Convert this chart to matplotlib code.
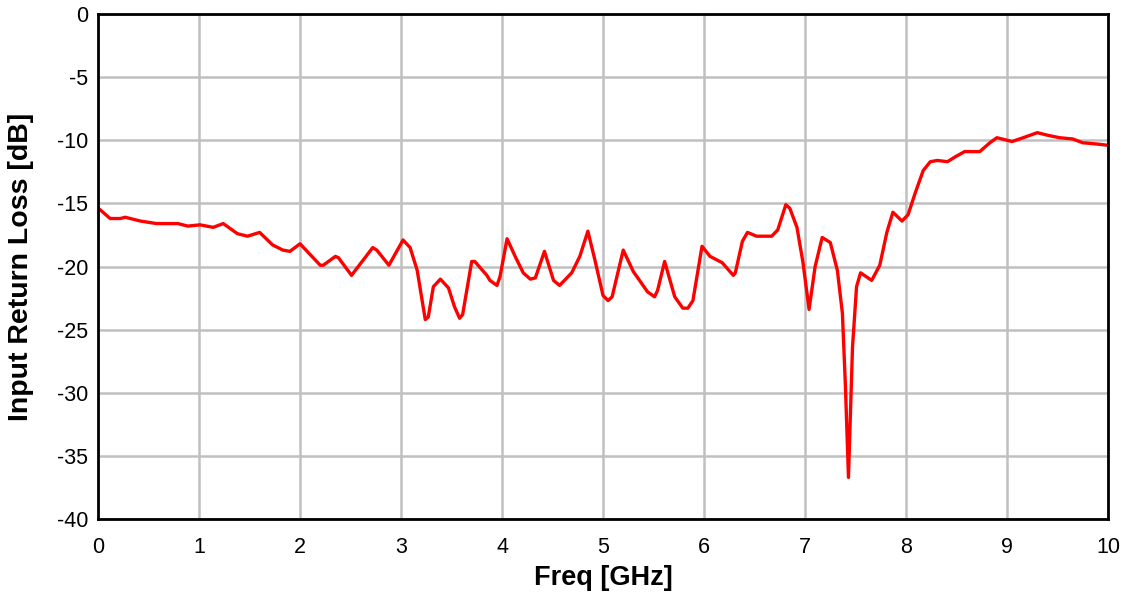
import matplotlib
matplotlib.use("Agg")
import matplotlib.pyplot as plt

plt.rcParams['font.family'] = ['Liberation Sans', 'DejaVu Sans']
plt.rcParams['axes.unicode_minus'] = False

# frequency [GHz] and input return loss [dB]
freq = [0.00, 0.02, 0.12, 0.22, 0.27, 0.42, 0.58, 0.79, 0.89, 1.01, 1.14, 1.24,
        1.38, 1.48, 1.60, 1.73, 1.83, 1.90, 2.00, 2.20, 2.23, 2.35, 2.38, 2.51,
        2.72, 2.76, 2.88, 3.02, 3.09, 3.16, 3.24, 3.27, 3.32, 3.39, 3.47, 3.53,
        3.58, 3.61, 3.70, 3.73, 3.85, 3.88, 3.95, 3.98, 4.05, 4.13, 4.21, 4.28,
        4.33, 4.42, 4.51, 4.57, 4.69, 4.77, 4.85, 4.92, 5.00, 5.05, 5.09, 5.20,
        5.30, 5.44, 5.51, 5.54, 5.61, 5.71, 5.79, 5.84, 5.89, 5.98, 6.06, 6.18,
        6.29, 6.31, 6.38, 6.43, 6.52, 6.67, 6.73, 6.81, 6.85, 6.92, 6.98, 7.04,
        7.10, 7.17, 7.25, 7.32, 7.37, 7.40, 7.43, 7.47, 7.51, 7.55, 7.66, 7.74,
        7.81, 7.87, 7.96, 8.02, 8.09, 8.17, 8.24, 8.31, 8.41, 8.49, 8.58, 8.65,
        8.73, 8.83, 8.90, 9.05, 9.16, 9.30, 9.40, 9.52, 9.65, 9.75, 9.89, 10.00]
s11 = [-15.4, -15.5, -16.2, -16.2, -16.1, -16.4, -16.6, -16.6, -16.8, -16.7, -16.9, -16.6,
       -17.4, -17.6, -17.3, -18.3, -18.7, -18.8, -18.2, -19.9, -19.9, -19.2, -19.3, -20.7,
       -18.5, -18.7, -19.9, -17.9, -18.5, -20.3, -24.2, -24.0, -21.6, -21.0, -21.7, -23.2,
       -24.1, -23.8, -19.6, -19.6, -20.7, -21.1, -21.5, -20.8, -17.8, -19.2, -20.5, -21.0,
       -20.9, -18.8, -21.1, -21.5, -20.5, -19.2, -17.2, -19.5, -22.3, -22.7, -22.4, -18.7,
       -20.4, -22.0, -22.4, -21.9, -19.6, -22.4, -23.3, -23.3, -22.7, -18.4, -19.2, -19.7,
       -20.7, -20.5, -18.0, -17.3, -17.6, -17.6, -17.1, -15.1, -15.4, -16.9, -19.7, -23.4,
       -20.0, -17.7, -18.1, -20.3, -23.7, -29.5, -36.7, -26.4, -21.6, -20.5, -21.1, -19.9,
       -17.3, -15.7, -16.4, -15.9, -14.2, -12.4, -11.7, -11.6, -11.7, -11.3, -10.9, -10.9,
       -10.9, -10.2, -9.8, -10.1, -9.8, -9.4, -9.6, -9.8, -9.9, -10.2, -10.3, -10.4]

fig = plt.figure(figsize=(11.28, 5.95), dpi=100)
ax = fig.add_axes([0.0869, 0.1277, 0.8954, 0.8488])

ax.plot(freq, s11, color='#ff0000', linewidth=2.4,
        solid_joinstyle='round', solid_capstyle='round')

ax.set_xlim(0, 10)
ax.set_ylim(-40, 0)
ax.set_xticks(range(0, 11))
ax.set_yticks(range(-40, 1, 5))
ax.grid(True, color='#c0c0c0', linewidth=1.8)
ax.set_axisbelow(True)
ax.tick_params(length=0, labelsize=15.5)
ax.tick_params(axis='x', pad=13)
ax.tick_params(axis='y', pad=7)
for sp in ax.spines.values():
    sp.set_linewidth(2)
    sp.set_color('black')

ax.set_xlabel('Freq [GHz]', fontsize=19.5, fontweight='bold')
ax.set_ylabel('Input Return Loss [dB]', fontsize=20.5, fontweight='bold')
ax.xaxis.set_label_coords(0.5, -0.091)
ax.yaxis.set_label_coords(-0.063, 0.5)

fig.savefig('out.png', dpi=100)
